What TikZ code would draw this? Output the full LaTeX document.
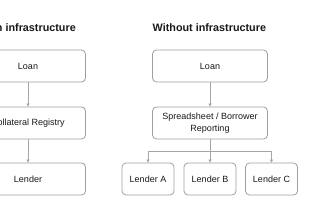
\documentclass[tikz,border=0pt]{standalone}
\usepackage{fontspec}
\setmainfont{Liberation Sans}
\usetikzlibrary{arrows.meta, calc}

\begin{document}
\begin{tikzpicture}[x=1pt, y=-1pt,
    box/.style={draw=gray!75, line width=0.8pt, rounded corners=4pt, fill=white,
      minimum height=32pt, align=center, font=\fontsize{9}{11.6}\selectfont, text=black!90},
    wide/.style={box, minimum width=115pt},
    small/.style={box, minimum width=52pt},
    title/.style={font=\fontsize{10.8}{12}\selectfont\bfseries, text=black!90, inner sep=0pt},
    link/.style={draw=gray!70, line width=0.8pt, -{Triangle[length=3pt, width=3pt]}}]
  % Frame of the (cropped) picture
  \clip (0,0) rectangle (320,213);
  \fill[white] (0,0) rectangle (320,213);

  % With infrastructure
  \node[title, anchor=east] (titleA) at (76, 28) {With infrastructure};
  \node[wide] (loanA) at (28, 66) {Loan};
  \node[wide] (registry) at (28, 123) {Collateral Registry};
  \node[wide] (lender) at (28, 179) {Lender};
  \draw[link] (loanA) -- (registry);
  \draw[link] (registry) -- (lender);

  % Without infrastructure
  \node[title, anchor=west] (titleB) at (152.5, 28) {Without infrastructure};
  \node[wide] (loanB) at (210, 66) {Loan};
  \node[wide] (sheet) at (210, 123) {Spreadsheet / Borrower\\Reporting};
  \node[small] (lenderA) at (148, 179) {Lender A};
  \node[small] (lenderB) at (210, 179) {Lender B};
  \node[small] (lenderC) at (271.5, 179) {Lender C};
  \draw[link] (loanB) -- (sheet);
  \draw[link] (sheet) -- (lenderB);
  \coordinate (fork) at ($(sheet.south)+(0,12)$);
  \draw[link] (fork) -| (lenderA.north);
  \draw[link] (fork) -| (lenderC.north);
\end{tikzpicture}
\end{document}
